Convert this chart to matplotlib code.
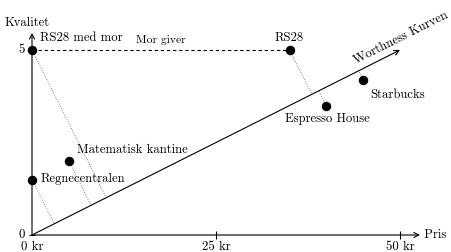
import matplotlib
matplotlib.use('Agg')
import matplotlib.pyplot as plt
import numpy as np

# places: (price in kr, quality)
names = ['RS28 med mor', 'RS28', 'Regnecentralen', 'Matematisk kantine', 'Espresso House', 'Starbucks']
prices = [0, 35, 0, 5, 40, 45]
quality = [5, 5, 1.5, 2, 3.5, 4.2]
# label offsets in points and horizontal alignment
label_off = [(5.5, 8.5), (0, 8.6), (5.8, 0.5), (5.8, 8.0), (1, -10.0), (5, -10.8)]
label_ha = ['left', 'center', 'left', 'left', 'center', 'left']

x_ticks = [0, 25, 50]
x_ticklabels = ['0 kr', '25 kr', '50 kr']
y_ticks = [0, 5]
worth_end = (50, 5)

FONT = 'cmr10'
FS = 9.1

fig = plt.figure(figsize=(4.51, 2.52), dpi=100)
ax = fig.add_axes([0, 0, 1, 1])
ax.set_xlim(-32 / 7.36, (451 - 32) / 7.36)
ax.set_ylim(-17 / 37, 235 / 37)
ax.axis('off')

lw = 0.8
arrow = dict(arrowstyle='->,head_length=0.35,head_width=0.18', lw=lw, color='black', shrinkA=0, shrinkB=0)
# axes with arrows
ax.annotate('', xy=(52.7, 0), xytext=(0, 0), arrowprops=arrow)
ax.annotate('', xy=(0, 5.46), xytext=(0, 0), arrowprops=arrow)
ax.text(52.7, 0, ' Pris', fontfamily=FONT, fontsize=FS, ha='left', va='center')
ax.text(-0.68, 5.74, 'Kvalitet', fontfamily=FONT, fontsize=FS, ha='center', va='center')

# ticks
ax.plot(x_ticks[1:], [0] * len(x_ticks[1:]), linestyle='', marker='|', markersize=6, mew=lw, color='black')
ax.plot([0] * len(y_ticks), y_ticks, linestyle='', marker='_', markersize=5, mew=lw, color='black')
for xv, lab in zip(x_ticks, x_ticklabels):
    ax.annotate(lab, (xv, 0), xytext=(0, -8.5), textcoords='offset points',
                fontfamily=FONT, fontsize=FS, ha='center', va='center')
for yv in y_ticks:
    ax.annotate(str(yv), (0, yv), xytext=(-5, 0), textcoords='offset points',
                fontfamily=FONT, fontsize=FS, ha='right', va='center')

# worthness line
ax.annotate('', xy=worth_end, xytext=(0, 0), arrowprops=arrow)
p0 = ax.transData.transform((0, 0))
p1 = ax.transData.transform(worth_end)
d = (p1 - p0) / np.linalg.norm(p1 - p0)
angle = np.degrees(np.arctan2(d[1], d[0]))
ax.annotate('Worthness Kurven', worth_end, xytext=(2.5, 5), textcoords='offset points',
            rotation=angle, rotation_mode='anchor', fontfamily=FONT, fontsize=FS,
            ha='center', va='bottom')

# dashed line from mor to RS28
ax.plot([prices[0], prices[1]], [quality[0], quality[1]], linestyle=(0, (3, 2.5)), lw=lw, color='black')
ax.annotate('Mor giver', (17.5, 5), xytext=(0, 7), textcoords='offset points',
            fontfamily=FONT, fontsize=8.3, ha='center', va='center')

# dotted perpendiculars onto the worthness line (in display space)
for px, qy in zip(prices, quality):
    p = ax.transData.transform((px, qy))
    foot = p0 + np.dot(p - p0, d) * d
    fx, fy = ax.transData.inverted().transform(foot)
    ax.plot([px, fx], [qy, fy], linestyle=(0, (1, 2)), lw=0.6, color='#555555')

# points and labels
ax.plot(prices, quality, linestyle='', marker='o', markersize=5.8, color='black', zorder=5)
for name, px, qy, off, ha in zip(names, prices, quality, label_off, label_ha):
    ax.annotate(name, (px, qy), xytext=off, textcoords='offset points',
                fontfamily=FONT, fontsize=FS, ha=ha, va='center')

fig.savefig('out.png', dpi=100)
